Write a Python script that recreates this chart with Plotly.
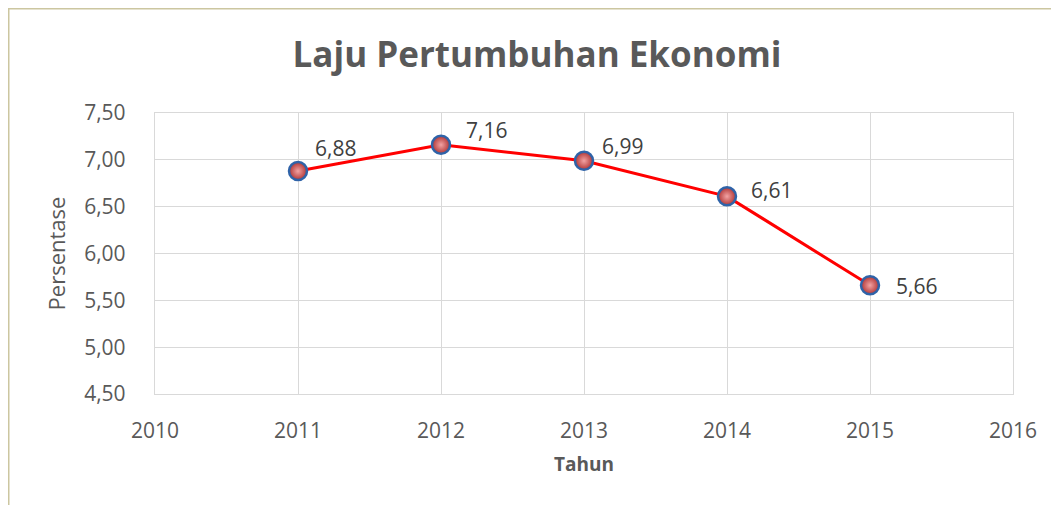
import plotly.graph_objects as go

years = [2011, 2012, 2013, 2014, 2015]
growth = [6.88, 7.16, 6.99, 6.61, 5.66]
labels = ["6,88", "7,16", "6,99", "6,61", "5,66"]
x_ticks = [2010, 2011, 2012, 2013, 2014, 2015, 2016]
y_ticks = [4.5, 5.0, 5.5, 6.0, 6.5, 7.0, 7.5]

# label offsets (pixels) as placed in the reference
lab_dx = [15, 23, 16, 22, 24]
lab_dy = [23, 15, 15, 6, -1]

FONT = "Open Sans"
grid = "#d9d9d9"
txt = "#595959"

# page has an 8px body margin; figure is sized to fill the rest
W, H = 1051, 497
L, R, T, B = 147, 1005, 105, 386

fig = go.Figure()
fig.add_trace(go.Scatter(
    x=years, y=growth, mode="lines+markers",
    line=dict(color="#ff0000", width=3),
    marker=dict(size=18, color="#b03535",
                gradient=dict(type="radial", color="#f2a3a3"),
                line=dict(color="#2f63a8", width=2.5)),
    cliponaxis=False, showlegend=False,
))

for x, y, s, dx, dy in zip(years, growth, labels, lab_dx, lab_dy):
    fig.add_annotation(x=x, y=y, text=s, showarrow=False, xanchor="left", yanchor="middle",
                       xshift=dx, yshift=dy, font=dict(family=FONT, size=21, color="#404040"))

pw, ph = R - L, B - T
fig.add_shape(type="rect", xref="paper", yref="paper",
              x0=(0.5 - L) / pw, x1=(W + 40 - L) / pw,
              y0=(B - H - 40) / ph, y1=(B - 0.5) / ph,
              line=dict(color="#ccc6a0", width=2), layer="below")

fig.update_layout(
    width=W, height=H,
    margin=dict(l=L, r=W - R, t=T, b=H - B),
    paper_bgcolor="white", plot_bgcolor="white",
    separators=",.",
    title=dict(text="<b>Laju Pertumbuhan Ekonomi</b>", x=529 / W, xref="container",
               xanchor="center", y=1 - 47 / H, yanchor="middle",
               font=dict(family=FONT, size=35, color=txt)),
    font=dict(family=FONT, color=txt),
)
fig.update_xaxes(range=[2010, 2016], tickvals=x_ticks, ticktext=[str(v) for v in x_ticks],
                 showgrid=True, gridcolor=grid, gridwidth=1.3, zeroline=False,
                 showline=True, linecolor=grid, linewidth=1.3, mirror=True,
                 ticks="outside", ticklen=18, tickcolor="rgba(0,0,0,0)",
                 tickfont=dict(family=FONT, size=21, color=txt),
                 title=dict(text="<b>Tahun</b>", font=dict(family=FONT, size=19, color=txt), standoff=14))
fig.update_yaxes(range=[4.5, 7.5], tickvals=y_ticks, tickformat=".2f",
                 showgrid=True, gridcolor=grid, gridwidth=1.3, zeroline=False,
                 showline=True, linecolor=grid, linewidth=1.3, mirror=True,
                 ticks="outside", ticklen=24, tickcolor="rgba(0,0,0,0)",
                 tickfont=dict(family=FONT, size=21, color=txt),
                 title=dict(text="Persentase", font=dict(family=FONT, size=22, color=txt), standoff=12))

fig.write_html("out.html")
